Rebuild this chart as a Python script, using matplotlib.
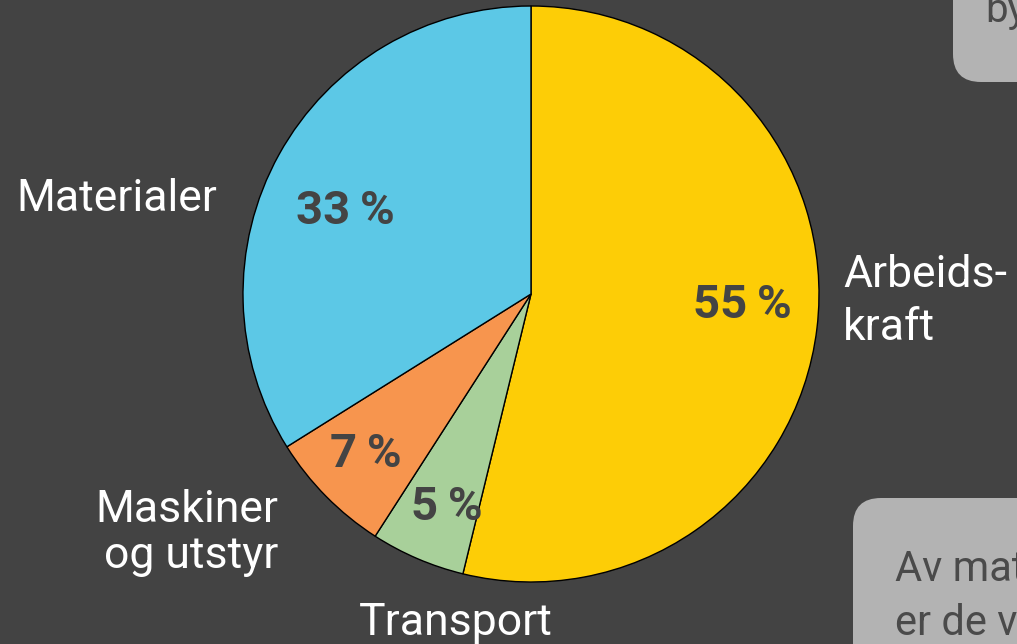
import matplotlib
matplotlib.use("Agg")
import matplotlib.pyplot as plt
from matplotlib.patches import FancyBboxPatch

categories = [["Arbeids-", "kraft"], ["Transport"], ["Maskiner", "og utstyr"], ["Materialer"]]
values = [53.8, 5.3, 7.0, 33.9]
pct_labels = ["55\u2009%", "5\u2009%", "7\u2009%", "33\u2009%"]
colors = ["#FDCD06", "#A8D09A", "#F7954E", "#5CC8E6"]

W, H = 1017, 644
BG = "#434343"
plt.rcParams['font.family'] = ['Roboto', 'DejaVu Sans']
fig = plt.figure(figsize=(W / 100, H / 100), dpi=100, facecolor=BG)

# pie
cx, cy, r = 531, 294, 288
pax = fig.add_axes([(cx - r) / W, (H - cy - r) / H, 2 * r / W, 2 * r / H])
pax.pie(values, colors=colors, startangle=90, counterclock=False, radius=1,
        wedgeprops=dict(edgecolor="black", linewidth=1.0))
pax.set_xlim(-1, 1)
pax.set_ylim(-1, 1)
pax.set_aspect("auto")
pax.axis("off")
pax.set_zorder(1)

# overlay axes in pixel coordinates
ov = fig.add_axes([0, 0, 1, 1])
ov.set_xlim(0, W)
ov.set_ylim(H, 0)
ov.axis("off")
ov.set_zorder(2)

# side boxes
rad = 28
for (x, y, w, h) in [(953, -60, 140, 142), (853, 498, 220, 200)]:
    ov.add_patch(FancyBboxPatch((x + rad, y + rad), w - 2 * rad, h - 2 * rad,
                                boxstyle=f"round,pad={rad}", fc="#B3B3B3", ec="none"))
ov.text(985, 22, "by", fontsize=29, color="#4a4a4a", va="baseline", ha="left")
ov.text(895, 581, "Av mat", fontsize=30, color="#4a4a4a", va="baseline", ha="left")
ov.text(895, 635, "er de v", fontsize=30, color="#4a4a4a", va="baseline", ha="left")

# percentage labels (center x, baseline y)
pct_pos = [(742, 318), (447, 520), (366, 467), (345, 224)]
for (x, y), t in zip(pct_pos, pct_labels):
    ov.text(x, y, t, fontsize=34, fontweight="bold", color="#444444",
            ha="center", va="baseline")

# category labels (x, first baseline, alignment, line step)
cat_pos = [(843, 287, "left", 53), (456, 635, "center", 0),
           (278, 522, "right", 46), (217, 211, "right", 0)]
for (x, y, ha, step), lines in zip(cat_pos, categories):
    for i, line in enumerate(lines):
        ov.text(x, y + i * step, line, fontsize=32,
                color="white", ha=ha, va="baseline")

fig.savefig("out.png", dpi=100, facecolor=BG)
